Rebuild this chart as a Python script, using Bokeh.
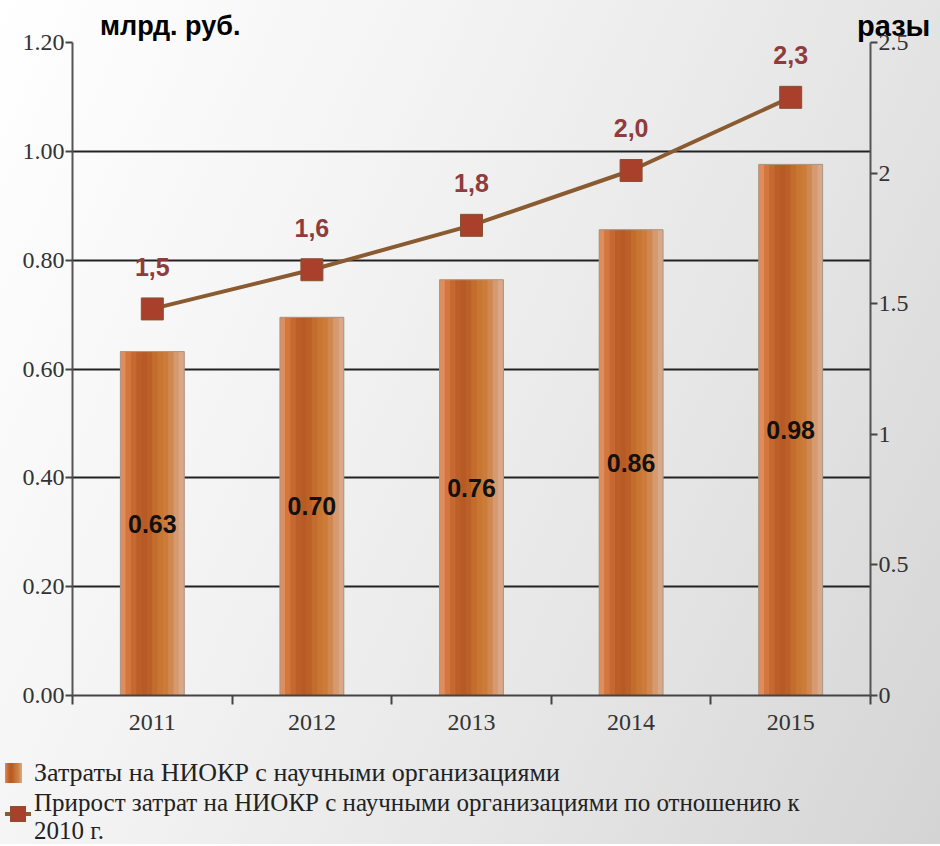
from bokeh.plotting import figure
from bokeh.models import Range1d, LinearAxis, FixedTicker, ColumnDataSource, Div, InlineStyleSheet
from bokeh.layouts import column, row
from bokeh.transform import dodge
from bokeh.core.properties import value
from bokeh.embed import file_html
from bokeh.resources import INLINE

years = [2011, 2012, 2013, 2014, 2015]
costs = [0.632, 0.695, 0.764, 0.856, 0.976]
cost_labels = ["0.63", "0.70", "0.76", "0.86", "0.98"]
growth = [1.48, 1.63, 1.80, 2.01, 2.29]
growth_labels = ["1,5", "1,6", "1,8", "2,0", "2,3"]
left_ticks = [0.0, 0.2, 0.4, 0.6, 0.8, 1.0, 1.2]
right_ticks = [0, 0.5, 1, 1.5, 2, 2.5]
right_tick_labels = ["0", "0.5", "1", "1.5", "2", "2.5"]
left_title = "млрд. руб."
right_title = "разы"
legend_bar_label = "Затраты на НИОКР с научными организациями"
legend_line_label = ["Прирост затрат на НИОКР с научными организациями по отношению к", "2010 г."]

BAR_COLOR = "#c8702f"
LINE_COLOR = "#8a5a30"
MARKER_COLOR = "#a8402c"
LABEL2_COLOR = "#8e3c3c"

src = ColumnDataSource(dict(x=years, y=costs, ymid=[c / 2 for c in costs],
                            lab=cost_labels, g=growth, glab=growth_labels))

serif = "Liberation Serif"
sans = "Liberation Sans"
BAR_W = 0.4
shade = ["#df8d5c", "#d4773f", "#c66832", "#bc5e28", "#b75a25", "#bb6028",
         "#c46c2e", "#c97632", "#cc7c3a", "#d08850", "#d59a70", "#d9a888"]

sans_css = InlineStyleSheet(css=":host, :host * { font-family: 'Liberation Sans', Arial, sans-serif !important; }")
serif_css = InlineStyleSheet(css=":host, :host * { font-family: 'Times New Roman', 'Liberation Serif', Times, serif !important; }")

title_style = {"font-weight": "bold", "color": "#000000", "padding-top": "6px",
               "white-space": "nowrap", "overflow": "visible", "line-height": "30px"}
d1 = Div(text=left_title, width=842, height=17, stylesheets=[sans_css],
         styles=dict(title_style, **{"padding-left": "95px", "font-size": "27px"}))
d2 = Div(text=right_title, width=82, height=17, stylesheets=[sans_css],
         styles=dict(title_style, **{"font-size": "29px"}))

p = figure(width=924, height=708, output_backend="svg", toolbar_location=None,
           x_range=Range1d(2010.5, 2015.5), y_range=Range1d(0, 1.2),
           min_border_left=72, min_border_right=54, min_border_top=15, min_border_bottom=40)
p.background_fill_color = None
p.border_fill_color = None
p.outline_line_color = None
p.extra_y_ranges = {"r": Range1d(0, 2.5)}

# x axis: labels at years, ticks between categories
p.xaxis.ticker = FixedTicker(ticks=years, minor_ticks=[2010.5, 2011.5, 2012.5, 2013.5, 2014.5, 2015.5])
p.xaxis.major_tick_line_color = None
p.xaxis.minor_tick_in = 0
p.xaxis.minor_tick_out = 9
p.xaxis.minor_tick_line_color = "#444444"
p.xaxis.minor_tick_line_width = 2
p.xaxis.axis_line_color = "#444444"
p.xaxis.axis_line_width = 2
p.xaxis.major_label_text_font = serif
p.xaxis.major_label_text_font_size = "24px"
p.xaxis.major_label_text_color = "#333333"
p.xaxis.major_label_standoff = 10

p.yaxis.ticker = FixedTicker(ticks=left_ticks)
p.yaxis.major_label_overrides = {t: f"{t:.2f}" for t in left_ticks}
p.yaxis.minor_tick_line_color = None
p.yaxis.major_tick_in = 0
p.yaxis.major_tick_out = 7
p.yaxis.major_tick_line_color = "#444444"
p.yaxis.major_tick_line_width = 2
p.yaxis.axis_line_color = "#555555"
p.yaxis.axis_line_width = 2
p.yaxis.major_label_text_font = serif
p.yaxis.major_label_text_font_size = "24px"
p.yaxis.major_label_text_color = "#333333"
p.yaxis.major_label_standoff = 1

ra = LinearAxis(y_range_name="r", ticker=FixedTicker(ticks=right_ticks),
                major_label_overrides={t: l for t, l in zip(right_ticks, right_tick_labels)})
ra.minor_tick_line_color = None
ra.major_tick_in = 0
ra.major_tick_out = 7
ra.major_tick_line_color = "#444444"
ra.major_tick_line_width = 2
ra.axis_line_color = "#555555"
ra.axis_line_width = 2
ra.major_label_text_font = serif
ra.major_label_text_font_size = "24px"
ra.major_label_text_color = "#333333"
ra.major_label_standoff = 1
p.add_layout(ra, "right")

p.xgrid.grid_line_color = None
p.ygrid.grid_line_color = "#222222"
p.ygrid.grid_line_width = 2

# bars with cylinder shading
n = len(shade)
sw = BAR_W / n
p.vbar(x="x", top="y", width=BAR_W, source=src, fill_color=BAR_COLOR, line_color=None)
for i, c in enumerate(shade):
    off = -BAR_W / 2 + sw * (i + 0.5)
    p.vbar(x=dodge("x", off, range=p.x_range), top="y", width=sw * 1.05, source=src,
           fill_color=c, line_color=None)
p.vbar(x="x", top="y", width=BAR_W, source=src, fill_color=None,
       line_color="#a89888", line_width=1)

p.text(x="x", y="ymid", text="lab", source=src, text_align="center", text_baseline="middle",
       text_font=value(sans), text_font_style="bold", text_font_size="25px", text_color="#111111")

# line
p.line(x="x", y="g", source=src, y_range_name="r", line_color=LINE_COLOR, line_width=4)
p.scatter(x="x", y="g", source=src, y_range_name="r", marker="square", size=22,
          fill_color=MARKER_COLOR, line_color="#8a5030", line_width=1)
p.text(x="x", y="g", text="glab", source=src, y_range_name="r", text_align="center",
       text_baseline="middle", y_offset=-42, text_font=value(sans), text_font_style="bold",
       text_font_size="25px", text_color=LABEL2_COLOR)

# legend (HTML)
grad = ", ".join(shade)
legend_html = (
    '<div style="position:relative;width:924px;height:99px;font-size:26px;color:#222222;">'
    '<div style="position:absolute;left:0px;top:23px;width:17px;height:20px;'
    f'background:linear-gradient(to right, {grad});"></div>'
    '<div style="position:absolute;left:29px;top:17px;line-height:32px;white-space:nowrap;">'
    f'{legend_bar_label}</div>'
    f'<div style="position:absolute;left:0px;top:72px;width:26px;height:4px;background:{LINE_COLOR};"></div>'
    f'<div style="position:absolute;left:5px;top:66px;width:16px;height:16px;background:{MARKER_COLOR};'
    'box-sizing:border-box;border:1px solid #8a5030;"></div>'
    '<div style="position:absolute;left:29px;top:49px;line-height:28px;font-size:25px;white-space:nowrap;">'
    f'{legend_line_label[0]}<br>{legend_line_label[1]}</div>'
    '</div>'
)
leg = Div(text=legend_html, width=924, height=99, stylesheets=[serif_css],
          styles={"overflow": "visible"})

layout = column(row(d1, d2, spacing=0), p, leg, spacing=0,
                styles={"background": "linear-gradient(115deg, #ffffff 0%, #f3f3f3 35%, #e4e4e4 70%, #d4d4d4 100%)"})

open("out.html", "w").write(file_html(layout, INLINE))
